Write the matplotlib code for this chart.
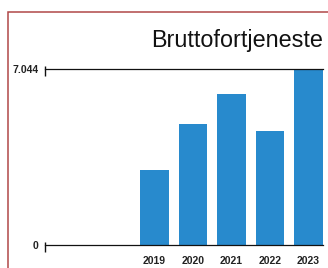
import matplotlib
matplotlib.use("Agg")
import matplotlib.pyplot as plt
import matplotlib.transforms as mtransforms
from matplotlib.patches import Rectangle

plt.rcParams['font.family'] = ['Liberation Sans', 'DejaVu Sans']

# Data
years = ['2019', '2020', '2021', '2022', '2023']
values = [3.014, 4.855, 6.056, 4.575, 7.044]
y_ticks = [0, 7.044]
y_tick_labels = ['0', '7.044']
title = "Bruttofortjeneste"

W, H = 328, 268
fig = plt.figure(figsize=(W / 100, H / 100), dpi=100)

# Axes placed to match the reference box
ax = fig.add_axes([44.7 / W, 1 - 245.3 / H, (323 - 44.7) / W, (245.3 - 69.3) / H])

xs = list(range(len(years)))
ax.bar(xs, values, width=0.75, color='#288ACD', zorder=2)

ax.set_xlim(-2.85, 4.375)
ax.set_ylim(0, 7.044)

# horizontal lines at 0 and max
for yv in y_ticks:
    ax.axhline(yv, color='#111111', linewidth=0.9, zorder=3, clip_on=False)

# short vertical tick marks at the left end (sit a bit below the lines)
trans = mtransforms.blended_transform_factory(ax.transAxes, ax.transData)
shift = mtransforms.ScaledTranslation(0, -1.5 / 100, fig.dpi_scale_trans)
ax.plot([0, 0], y_ticks, transform=trans + shift, linestyle='none', marker='|',
        markersize=6.5, markeredgewidth=1.0, color='#111111', clip_on=False, zorder=4)

for s in ax.spines.values():
    s.set_visible(False)

ax.set_yticks(y_ticks)
ax.set_yticklabels(y_tick_labels, fontsize=7.5, fontweight='bold', color='#222222')
ax.tick_params(axis='y', length=0, pad=4.6)

ax.set_xticks(xs)
ax.set_xticklabels(years, fontsize=7.5, fontweight='bold', color='#222222')
ax.tick_params(axis='x', length=0, pad=7.5)

# title, right aligned
fig.text(323 / W, 1 - 46.7 / H, title, ha='right', va='baseline',
         fontsize=16.8, color='#111111')

# reddish frame (only left and top edges visible)
frame = Rectangle((8.2 / W, -0.2), 1.0, 1 - 12 / H + 0.2, transform=fig.transFigure,
                  fill=False, edgecolor='#b04848', linewidth=1.1)
fig.patches.append(frame)

fig.savefig("out.png", dpi=100)
